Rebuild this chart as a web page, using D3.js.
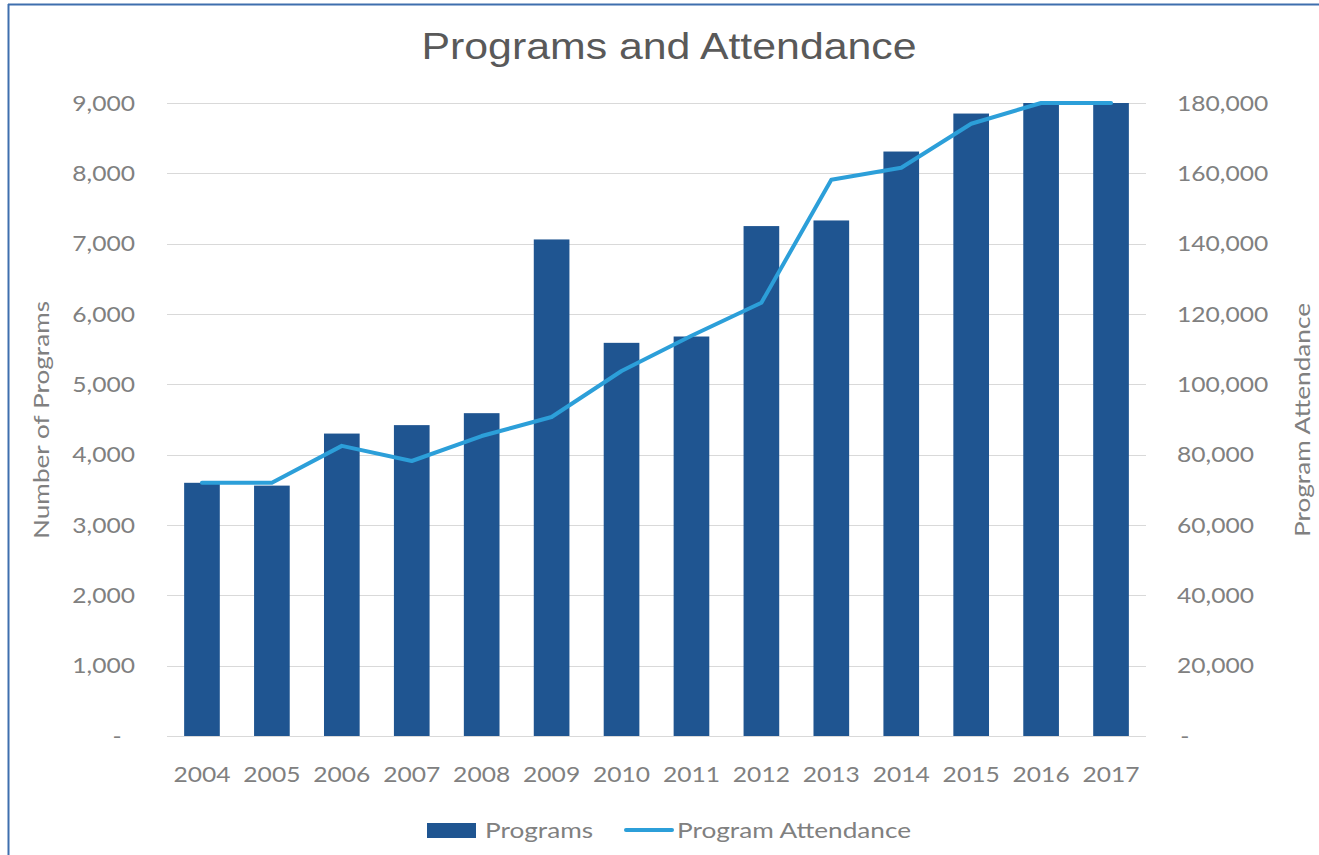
<!DOCTYPE html>
<html><head><meta charset="utf-8">
<script src="https://cdn.jsdelivr.net/npm/d3@7"></script>
<style>
html,body{margin:0;padding:0;background:#fff;}
svg{display:block;}
</style></head>
<body>
<svg id="chart" width="1319" height="855"></svg>
<script>
const years = ["2004","2005","2006","2007","2008","2009","2010","2011","2012","2013","2014","2015","2016","2017"];
const programs = [3600,3560,4300,4420,4590,7060,5590,5680,7250,7330,8310,8850,9000,9000];
const attendance = [72000,72000,82500,78200,85300,90700,103800,113800,123200,158200,161600,174100,180000,180000];
const leftTicks = [0,1000,2000,3000,4000,5000,6000,7000,8000,9000];
const rightTicks = [0,20000,40000,60000,80000,100000,120000,140000,160000,180000];
const title = "Programs and Attendance";
const leftTitle = "Number of Programs";
const rightTitle = "Program Attendance";
const seriesNames = ["Programs","Program Attendance"];

const svg = d3.select("#chart");
const W = 1319, H = 855;
const m = {left:167, right:1146, top:103, bottom:736};
const barColor = "#1f5591", lineColor = "#2c9fd9", textColor = "#808080", gridColor = "#d9d9d9";
const font = "Lato, 'Open Sans', sans-serif";
const sx = 1.12, sx2 = 1.19;

// frame
svg.append("line").attr("x1",8.5).attr("x2",8.5).attr("y1",4).attr("y2",H).attr("stroke","#3f6fae").attr("stroke-width",2);
svg.append("line").attr("x1",8).attr("x2",W).attr("y1",4.5).attr("y2",4.5).attr("stroke","#3f6fae").attr("stroke-width",2);

const x = d3.scaleBand().domain(years).range([m.left,m.right]).paddingInner(0.49).paddingOuter(0.245);
const yL = d3.scaleLinear().domain([0,9000]).range([m.bottom,m.top]);
const yR = d3.scaleLinear().domain([0,180000]).range([m.bottom,m.top]);

const fmt = v => v === 0 ? "-" : d3.format(",")(v);

// gridlines
svg.append("g").selectAll("line").data(leftTicks).join("line")
  .attr("x1",m.left).attr("x2",m.right)
  .attr("y1",d=>Math.round(yL(d))+0.5).attr("y2",d=>Math.round(yL(d))+0.5)
  .attr("stroke",gridColor).attr("stroke-width",1);

// left axis
const gl = svg.append("g").attr("transform",`translate(${m.left-32},0)`)
  .call(d3.axisLeft(yL).tickValues(leftTicks).tickFormat(fmt).tickSize(0).tickPadding(0));
gl.select(".domain").remove();
gl.selectAll("text").attr("font-family",font).attr("font-size",22).attr("fill",textColor)
  .attr("dx", d=> d===0 ? -12 : 0).attr("transform",`scale(${sx},1)`);

// right axis
const gr = svg.append("g").attr("transform",`translate(${m.right+31},0)`)
  .call(d3.axisRight(yR).tickValues(rightTicks).tickFormat(fmt).tickSize(0).tickPadding(0));
gr.select(".domain").remove();
gr.selectAll("text").attr("font-family",font).attr("font-size",22).attr("fill",textColor)
  .attr("dx", d=> d===0 ? 3 : 0).attr("transform",`scale(${sx},1)`);

// x axis
const gx = svg.append("g").attr("transform",`translate(0,${m.bottom})`)
  .call(d3.axisBottom(x).tickSize(0).tickPadding(30));
gx.select(".domain").remove();
gx.selectAll("text").attr("font-family",font).attr("font-size",22).attr("fill",textColor)
  .attr("transform",`scale(${sx},1)`);

// bars
svg.append("g").selectAll("rect").data(programs).join("rect")
  .attr("x",(d,i)=>x(years[i])).attr("width",x.bandwidth())
  .attr("y",d=>yL(d)).attr("height",d=>yL(0)-yL(d))
  .attr("fill",barColor);

// line
const line = d3.line().x((d,i)=>x(years[i])+x.bandwidth()/2).y(d=>yR(d));
svg.append("path").datum(attendance).attr("d",line)
  .attr("fill","none").attr("stroke",lineColor).attr("stroke-width",4).attr("stroke-linejoin","round").attr("stroke-linecap","round");

// titles
svg.append("text").attr("transform",`translate(669,59) scale(${sx2},1)`).attr("text-anchor","middle")
  .attr("font-family","'Liberation Sans', Arial, sans-serif").attr("font-size",36).attr("fill","#595959").text(title);
svg.append("text").attr("transform",`translate(49,420) rotate(-90) scale(${sx2},1)`).attr("text-anchor","middle")
  .attr("font-family",font).attr("font-size",22).attr("fill",textColor).text(leftTitle);
svg.append("text").attr("transform",`translate(1310,420) rotate(-90) scale(${sx2},1)`).attr("text-anchor","middle")
  .attr("font-family",font).attr("font-size",22).attr("fill",textColor).text(rightTitle);

// legend
const lg = svg.append("g");
lg.append("rect").attr("x",427).attr("y",823).attr("width",49).attr("height",15).attr("fill",barColor);
lg.append("text").attr("transform",`translate(485,838) scale(${sx2},1)`).attr("font-family",font).attr("font-size",22).attr("fill",textColor).text(seriesNames[0]);
lg.append("line").attr("x1",626).attr("x2",672).attr("y1",830).attr("y2",830).attr("stroke",lineColor).attr("stroke-width",4).attr("stroke-linecap","round");
lg.append("text").attr("transform",`translate(677,838) scale(${sx2},1)`).attr("font-family",font).attr("font-size",22).attr("fill",textColor).text(seriesNames[1]);
</script>
</body></html>
